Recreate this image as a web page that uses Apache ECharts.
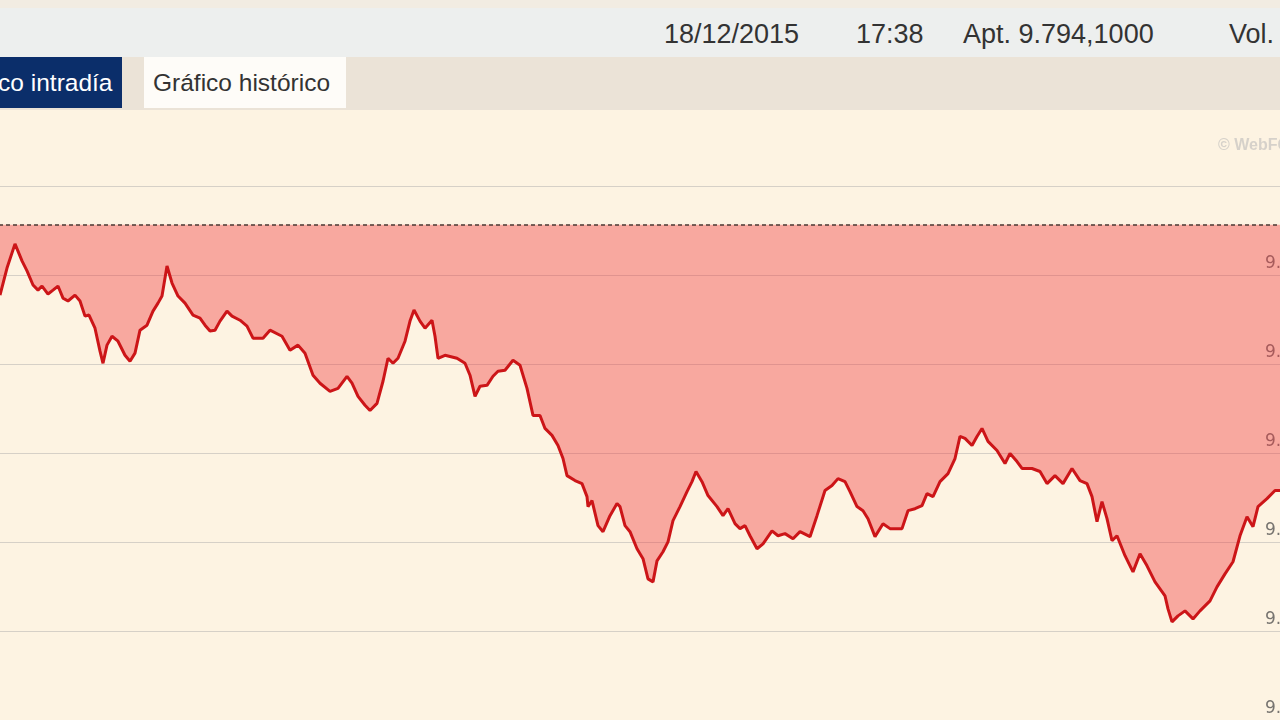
<!DOCTYPE html>
<html>
<head>
<meta charset="utf-8">
<script src="https://cdn.jsdelivr.net/npm/echarts@6/dist/echarts.min.js"></script>
<style>
  html, body { margin: 0; padding: 0; width: 1280px; height: 720px; overflow: hidden; background: #fdf3e2; font-family: "Liberation Sans", Arial, sans-serif; }
  #top { position: absolute; left: 0; top: 0; width: 1280px; height: 8px; background: #f2ece2; z-index: 3; }
  #header { position: absolute; left: 0; top: 8px; width: 1280px; height: 49px; background: #edefee; z-index: 3; }
  #header span { position: absolute; top: 0; line-height: 53px; font-size: 27px; color: #333; white-space: nowrap; }
  #tabs { position: absolute; left: 0; top: 57px; width: 1280px; height: 53px; background: #ebe3d7; z-index: 3; overflow: hidden; }
  .tab { position: absolute; top: 0; height: 51px; line-height: 52px; font-size: 24.5px; white-space: nowrap; }
  #tab1 { left: -64px; width: 186px; background: #0b2e6a; color: #fff; padding-left: 9px; box-sizing: border-box; }
  #tab2 { left: 144px; width: 202px; background: #fefcf8; color: #333; padding-left: 9px; box-sizing: border-box; }
  #chart { position: absolute; left: -15px; top: 110px; width: 1340px; height: 620px; z-index: 1; }
  #wm { position: absolute; left: 1218px; top: 136px; font-size: 16px; font-weight: bold; color: #d6d1ca; z-index: 2; white-space: nowrap; }
</style>
</head>
<body>
<div id="top"></div>
<div id="header">
  <span style="left:664px">18/12/2015</span>
  <span style="left:856px">17:38</span>
  <span style="left:963px">Apt. 9.794,1000</span>
  <span style="left:1229px">Vol.</span>
</div>
<div id="tabs">
  <div class="tab" id="tab1">Gráfico intradía</div>
  <div class="tab" id="tab2">Gráfico histórico</div>
</div>
<div id="wm">© WebFG</div>
<div id="chart"></div>
<script>
// Minutes after 09:00
const minutes = [
  6,8.8,12,14.8,16.8,19.2,21.2,22.8,25.2,27.2,
  29.2,31.2,33.2,36,38,40,41.6,44,46,47.2,
  48.8,50.8,53.2,56,58,60,62,64.8,67.2,69.2,
  70.8,72.8,74.8,77.2,80,83.2,86,88,90,92,
  94,96.8,98.8,102,104.8,107.2,111.2,114,118.8,122,
  125.2,128,131.2,134,138,141.2,144.8,146.8,149.2,152,
  154,156.8,159.2,161.2,163.2,165.2,168,170,171.6,174,
  176,178.8,180,181.2,184,188.8,192,194,196,198,
  200.8,203.2,205.2,208,211.2,214,216.8,219.2,222,224,
  226.8,229.2,231.2,232.8,236,238.8,240.8,241.2,242.8,245.2,
  247.2,250,252.8,254,256,258,260.8,263.2,265.2,267.2,
  268.8,271.2,273.2,275.2,278,280.8,282.8,284.4,286.8,289.2,
  292.8,295.2,297.2,300,302,304,306,308.8,311.2,314.8,
  317.2,320,323.2,326,330,332.8,336,338.8,341.2,344,
  346,348.8,351.2,353.2,356,359.2,362,366.8,369.2,372,
  374.8,376.8,379.2,382,385.2,388,390,392,394.8,396.8,
  398.8,401.2,404.8,408,410,412.8,414.8,418.8,422,424.8,
  428,431.2,434.8,438,440.8,442.8,444.8,446.8,448.8,450.8,
  452.8,456,459.2,462,464.8,468,472,473.2,474.8,477.2,
  480,483.2,486,490,492.8,496,499.2,502,504.8,507.2,
  509.2,512.8,516,518
];
// Index level
const prices = [
  9788.7,9803.9,9817.5,9807.9,9802.3,9794.4,9791.5,9793.8,9789.3,9791.5,
  9793.8,9787.0,9785.4,9788.7,9785.4,9776.9,9777.5,9770.1,9757.2,9750.4,
  9760.6,9765.6,9762.8,9754.9,9751.5,9756.1,9769.0,9771.8,9779.7,9784.2,
  9788.2,9805.1,9795.5,9788.2,9784.2,9777.5,9775.8,9771.8,9768.5,9769.0,
  9774.1,9779.7,9776.9,9774.6,9771.3,9764.5,9764.5,9769.0,9765.6,9757.7,
  9760.6,9756.1,9743.7,9739.2,9734.6,9736.3,9743.1,9739.2,9731.8,9726.8,
  9723.9,9727.9,9740.3,9753.2,9750.4,9753.2,9762.8,9774.1,9780.3,9774.1,
  9770.1,9774.6,9765.6,9753.2,9754.9,9753.2,9750.4,9743.7,9731.8,9737.5,
  9738.0,9743.1,9745.9,9746.5,9752.1,9749.3,9736.3,9721.1,9721.1,9713.8,
  9709.9,9704.2,9696.9,9687.3,9684.5,9682.8,9675.5,9669.9,9673.2,9659.2,
  9655.8,9664.8,9671.6,9669.9,9659.2,9655.8,9646.2,9640.6,9629.3,9627.6,
  9639.4,9644.5,9650.1,9662.0,9669.9,9678.3,9683.9,9689.6,9683.9,9676.1,
  9669.9,9664.8,9668.7,9660.3,9657.5,9659.2,9653.5,9646.2,9649.0,9656.3,
  9653.5,9654.7,9651.8,9655.8,9653.0,9664.8,9678.9,9681.7,9685.6,9683.9,
  9678.3,9669.9,9667.6,9663.1,9653.0,9660.3,9657.5,9657.5,9667.6,9668.7,
  9670.4,9677.2,9675.5,9683.9,9688.4,9696.9,9709.3,9708.2,9704.2,9709.3,
  9713.8,9706.5,9701.4,9694.1,9699.7,9695.2,9691.3,9691.3,9689.6,9682.8,
  9687.3,9682.8,9691.3,9684.5,9682.8,9675.5,9661.4,9672.7,9663.1,9650.7,
  9653.5,9642.3,9633.2,9643.4,9636.6,9627.6,9619.7,9612.4,9605.1,9608.5,
  9611.3,9606.8,9611.3,9616.9,9624.8,9632.1,9638.9,9653.5,9664.2,9658.6,
  9669.9,9674.4,9678.9,9678.9
];
const prevClose = 9828.2;
const yMin = 9550, yMax = 9850, yStep = 50;

const n = Math.min(minutes.length, prices.length);
const seriesData = [];
for (let i = 0; i < n; i++) seriesData.push([minutes[i], prices[i]]);

function fmt(v) {
  return String(Math.round(v)).replace(/(\d)(\d{3})$/, '$1.$2');
}

const chart = echarts.init(document.getElementById('chart'), null, { renderer: 'canvas' });
chart.setOption({
  animation: false,
  backgroundColor: 'transparent',
  grid: { left: 0, right: 15, top: 76, height: 534, containLabel: false, outerBoundsMode: 'none' },
  xAxis: {
    type: 'value', min: 0, max: 530, show: false,
    splitLine: { show: false }
  },
  yAxis: {
    type: 'value', position: 'left', offset: -1280,
    min: yMin, max: yMax, interval: yStep,
    axisLine: { show: false }, axisTick: { show: false },
    axisLabel: {
      inside: true, margin: 0, verticalAlign: 'bottom', padding: [0, 0, 3, 0],
      color: '#777470', fontSize: 17, fontFamily: 'DejaVu Sans',
      showMaxLabel: false, formatter: fmt
    },
    splitLine: { show: true, lineStyle: { color: '#d6d0c7', width: 1.2 } }
  },
  series: [{
    type: 'line',
    data: seriesData,
    showSymbol: false,
    smooth: false,
    lineStyle: { color: '#cc1518', width: 3 },
    areaStyle: { color: 'rgba(240,55,60,0.40)', opacity: 1, origin: prevClose },
    markLine: {
      silent: true, symbol: 'none', label: { show: false },
      lineStyle: { color: '#4a3a34', width: 1.6, type: [4, 3] },
      data: [{ yAxis: prevClose }]
    },
    z: 3
  }]
});
</script>
</body>
</html>
